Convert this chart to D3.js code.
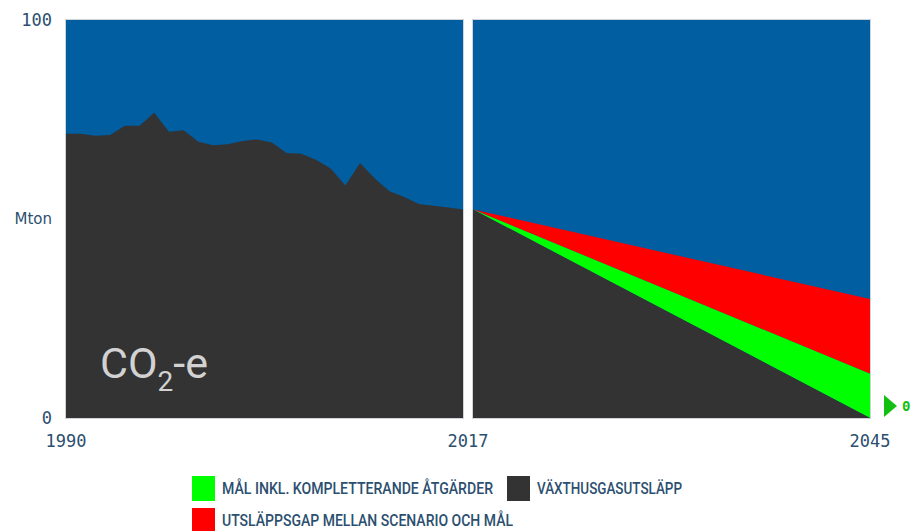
<!DOCTYPE html>
<html><head><meta charset="utf-8">
<script src="https://cdn.jsdelivr.net/npm/d3@7/dist/d3.min.js"></script>
<style>body{margin:0;background:#fff;}svg{display:block;}</style>
</head><body>
<svg id="c" width="912" height="531"></svg>
<script>
const histYears = [1990,1991,1992,1993,1994,1995,1996,1997,1998,1999,2000,2001,2002,2003,2004,2005,2006,2007,2008,2009,2010,2011,2012,2013,2014,2015,2016,2017];
const emissions = [71.4,71.4,70.9,71.1,73.4,73.4,76.7,71.9,72.3,69.4,68.5,68.8,69.6,70.0,69.2,66.6,66.4,64.9,62.7,58.4,64.1,60.2,57.0,55.5,53.8,53.3,52.9,52.4];
const projYears = [2017, 2045];
const scenarioGap = [52.4, 29.9];      // top of red band
const goalInclMeasures = [52.4, 11.1]; // top of green band
const goalEmissions = [52.4, 0];       // top of dark area
const yTickLabels = ["0", "100"];
const yTickValues = [0, 100];
const yUnit = "Mton";
const xTickLabels = ["1990", "2017", "2045"];
const legendItems = [
  {label: "MÅL INKL. KOMPLETTERANDE ÅTGÄRDER", color: "#00ff00"},
  {label: "VÄXTHUSGASUTSLÄPP", color: "#333333"},
  {label: "UTSLÄPPSGAP MELLAN SCENARIO OCH MÅL", color: "#ff0000"}
];

(function(){
const svg = d3.select("#c");
const BLUE = "#005ea1", DARK = "#333333", TXT = "#2c4f6f";
const plotTop = 20, plotBottom = 418;
const y = d3.scaleLinear().domain([0, 100]).range([plotBottom, plotTop]);
const xL = d3.scaleLinear().domain([1990, 2017]).range([66, 463]);
const xR = d3.scaleLinear().domain([2017, 2045]).range([473, 870]);

// Left panel
svg.append("rect").attr("x", xL(1990)).attr("y", y(100)).attr("width", xL(2017)-xL(1990)).attr("height", y(0)-y(100)).attr("fill", BLUE);
svg.append("path").datum(histYears.map((d,i)=>[d, emissions[i]]))
  .attr("fill", DARK)
  .attr("d", d3.area().x(d=>xL(d[0])).y0(y(0)).y1(d=>y(d[1])));

// Right panel
svg.append("rect").attr("x", xR(2017)).attr("y", y(100)).attr("width", xR(2045)-xR(2017)).attr("height", y(0)-y(100)).attr("fill", BLUE);
const proj = projYears.map((d,i)=>({yr:d, red:scenarioGap[i], green:goalInclMeasures[i], dark:goalEmissions[i]}));
svg.append("path").datum(proj).attr("fill", "#ff0000")
  .attr("d", d3.area().x(d=>xR(d.yr)).y0(d=>y(d.green)).y1(d=>y(d.red)));
svg.append("path").datum(proj).attr("fill", "#00ff00")
  .attr("d", d3.area().x(d=>xR(d.yr)).y0(d=>y(d.dark)).y1(d=>y(d.green)));
svg.append("path").datum(proj).attr("fill", DARK)
  .attr("d", d3.area().x(d=>xR(d.yr)).y0(y(0)).y1(d=>y(d.dark)));

// thin panel outlines
[[xL,1990,2017],[xR,2017,2045]].forEach(([s,a,b])=>{
  svg.append("rect").attr("x", s(a)-0.5).attr("y", y(100)-0.5).attr("width", s(b)-s(a)+1).attr("height", y(0)-y(100)+1)
    .attr("fill","none").attr("stroke","#d0d4d8").attr("stroke-width",1);
});

// CO2-e label
const co = svg.append("text").attr("x", 100).attr("y", 378).attr("fill", "#d2d2d2")
  .attr("font-family", "Roboto, sans-serif").attr("font-size", 43);
co.append("tspan").text("CO");
co.append("tspan").attr("font-size", 28).attr("dy", 13).text("2");
co.append("tspan").attr("dy", -13).text("-e");

// Y ticks
const mono = "'DejaVu Sans Mono', monospace";
yTickValues.forEach((v,i)=>{
  svg.append("text").attr("x", 52).attr("y", y(v)).attr("dy", "0.35em").attr("text-anchor", "end")
    .attr("font-family", mono).attr("font-size", 17).attr("fill", TXT).text(yTickLabels[i]);
});
svg.append("text").attr("x", 52).attr("y", y(50)).attr("dy", "0.35em").attr("text-anchor", "end")
  .attr("font-family", "'DejaVu Sans', sans-serif").attr("font-size", 15).attr("fill", TXT).text(yUnit);

// X ticks
const xPos = [xL(1990), (xL(2017)+xR(2017))/2, xR(2045)];
xTickLabels.forEach((t,i)=>{
  svg.append("text").attr("x", xPos[i]).attr("y", 441).attr("dy", "0.35em").attr("text-anchor", "middle")
    .attr("font-family", mono).attr("font-size", 17).attr("fill", TXT).text(t);
});

// Goal marker at 2045
const gy = y(goalEmissions[1]) - 12;
svg.append("path").attr("fill", "#11c011")
  .attr("d", `M884,${gy-11} L897,${gy} L884,${gy+11} Z`);
svg.append("text").attr("x", 902).attr("y", gy).attr("dy", "0.35em")
  .attr("font-family", mono).attr("font-weight", "bold").attr("font-size", 14).attr("fill", "#11c011").text("0");

// Legend
const legPos = [{x:192,y:476},{x:507,y:476},{x:192,y:508}];
const legW = [271, 145, 291];
legendItems.forEach((d,i)=>{
  const p = legPos[i];
  svg.append("rect").attr("x", p.x).attr("y", p.y).attr("width", 23).attr("height", 25).attr("fill", d.color);
  svg.append("text").attr("x", p.x+30).attr("y", p.y+12.5).attr("dy", "0.35em")
    .attr("font-family", "Roboto, sans-serif").attr("font-weight", 500).attr("font-size", 16).attr("fill", TXT)
    .attr("textLength", legW[i]).attr("lengthAdjust", "spacingAndGlyphs").text(d.label);
});
})();
</script>
</body></html>
